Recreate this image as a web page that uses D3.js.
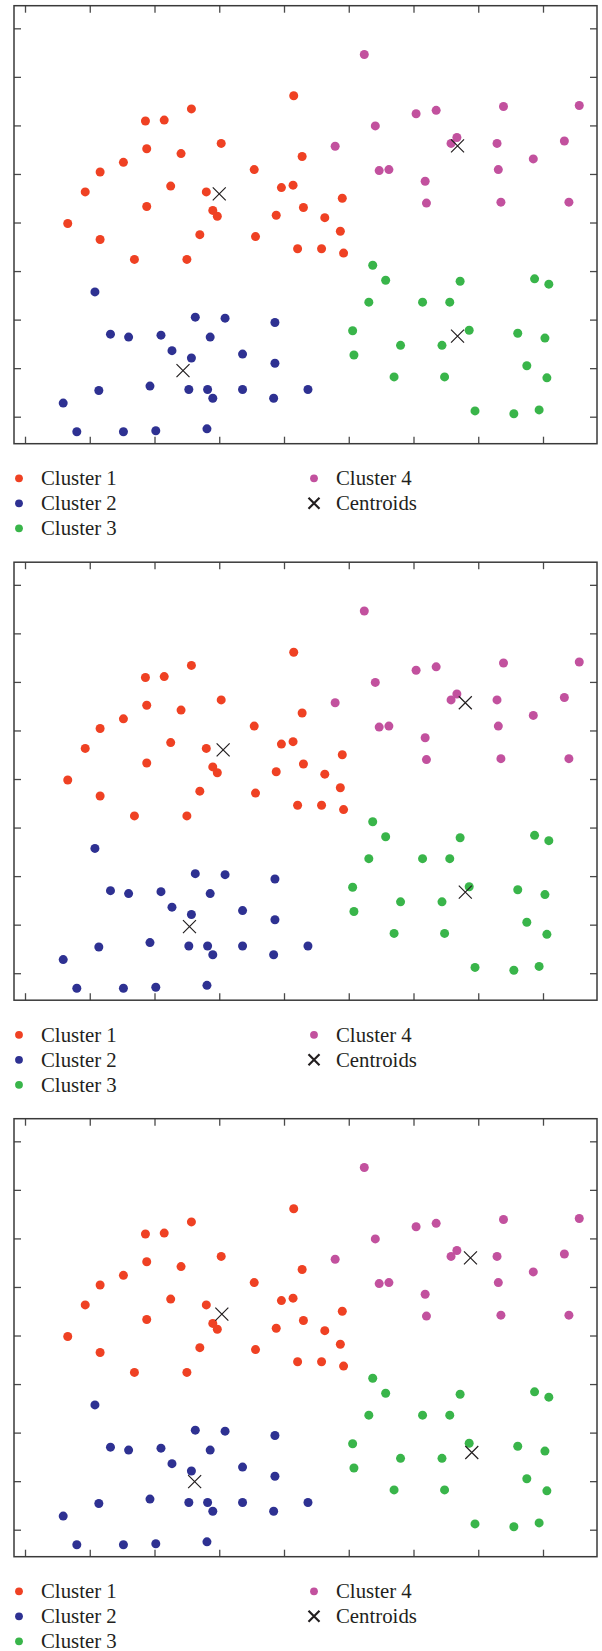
<!DOCTYPE html>
<html>
<head>
<meta charset="utf-8">
<script src="https://cdn.jsdelivr.net/npm/d3@7"></script>
<style>
  html, body { margin: 0; padding: 0; background: #ffffff; }
  svg { display: block; }
</style>
</head>
<body>
<div id="chart"></div>
<script>
// ---------------- data ----------------
const seriesNames = ["Cluster 1", "Cluster 2", "Cluster 3", "Cluster 4"];
const centroidLabel = "Centroids";
const xTicks = [0, 1, 2, 3, 4, 5, 6, 7, 8];
const yTicks = [0, 1, 2, 3, 4, 5, 6, 7, 8];

const cluster1 = [
  [4.15, 6.61], [2.57, 6.34], [1.86, 6.09], [2.15, 6.11], [1.88, 5.52], [3.03, 5.63],
  [2.41, 5.42], [1.52, 5.24], [1.16, 5.04], [3.54, 5.09], [4.28, 5.36], [0.93, 4.63],
  [2.25, 4.75], [2.80, 4.63], [3.96, 4.72], [4.14, 4.77], [1.88, 4.33], [2.90, 4.25],
  [2.97, 4.13], [3.88, 4.15], [4.30, 4.31], [0.66, 3.98], [4.90, 4.50], [4.63, 4.10],
  [1.16, 3.65], [2.70, 3.75], [3.56, 3.71], [4.21, 3.46], [4.58, 3.46], [4.87, 3.82],
  [4.92, 3.37], [1.69, 3.24], [2.50, 3.24]
];
const cluster2 = [
  [1.08, 2.57], [2.63, 2.05], [3.09, 2.03], [3.86, 1.94], [1.32, 1.70], [1.60, 1.64],
  [2.10, 1.68], [2.86, 1.64], [2.27, 1.36], [2.57, 1.21], [3.36, 1.29], [3.86, 1.10],
  [1.93, 0.63], [1.14, 0.54], [2.53, 0.56], [2.82, 0.56], [2.90, 0.38], [3.36, 0.56],
  [3.84, 0.38], [0.59, 0.28], [0.80, -0.31], [1.52, -0.31], [2.02, -0.29], [2.81, -0.25],
  [4.37, 0.56]
];
const cluster3 = [
  [5.37, 3.12], [5.57, 2.81], [6.72, 2.79], [7.87, 2.84], [8.09, 2.73], [5.31, 2.36],
  [6.14, 2.36], [6.56, 2.36], [5.06, 1.77], [6.86, 1.78], [7.61, 1.72], [8.03, 1.62],
  [5.80, 1.47], [6.44, 1.47], [5.08, 1.27], [7.75, 1.05], [5.70, 0.82], [6.48, 0.82],
  [8.06, 0.80], [6.95, 0.12], [7.55, 0.06], [7.94, 0.14]
];
const cluster4 = [
  [5.24, 7.46], [6.04, 6.24], [6.35, 6.31], [7.39, 6.39], [8.56, 6.41], [5.41, 5.99],
  [4.79, 5.57], [6.58, 5.63], [6.67, 5.75], [7.29, 5.63], [8.33, 5.68], [7.85, 5.31],
  [5.47, 5.07], [5.62, 5.09], [7.31, 5.09], [6.18, 4.85], [6.20, 4.40], [7.35, 4.42],
  [8.40, 4.42]
];
// centroids per panel (cluster 1..4)
const centroidsA = [[3.00, 4.59], [2.44, 0.95], [6.68, 1.66], [6.68, 5.58]];
const centroidsB = [[3.06, 4.60], [2.54, 0.96], [6.80, 1.67], [6.80, 5.57]];
const centroidsC = [[3.04, 4.44], [2.62, 0.99], [6.90, 1.59], [6.88, 5.60]];

// ---------------- style / layout ----------------
const colors = ["#EF4123", "#2E3192", "#39B54A", "#C2519E"];
const clusters = [cluster1, cluster2, cluster3, cluster4];
const panels = [centroidsA, centroidsB, centroidsC];

const W = 602, H = 1651;
const panelStep = 556.5;
const frame = { left: 14, right: 597, top: 5.7, bottom: 443.7 };
const xDomain = [-0.17, 8.834];
const yDomain = [-0.556, 8.466];
const ink = "#231F20";
const axisColor = "#3a3a3a";

const svg = d3.select("#chart").append("svg")
  .attr("width", W).attr("height", H)
  .attr("viewBox", `0 0 ${W} ${H}`);

const x = d3.scaleLinear().domain(xDomain).range([frame.left, frame.right]);
const y = d3.scaleLinear().domain(yDomain).range([frame.bottom, frame.top]);

function xMark(g, cx, cy, s, sw) {
  g.append("path")
    .attr("d", `M${cx - s},${cy - s}L${cx + s},${cy + s}M${cx - s},${cy + s}L${cx + s},${cy - s}`)
    .attr("stroke", ink).attr("stroke-width", sw).attr("fill", "none");
}

panels.forEach((cents, pi) => {
  const g = svg.append("g").attr("transform", `translate(0,${pi * panelStep})`);

  // axes with inward ticks, no labels
  const tickLen = -7;
  const styleAxis = sel => {
    sel.select(".domain").remove();
    sel.selectAll(".tick line").attr("stroke", "#4a4a4a").attr("stroke-width", 1.3);
  };
  g.append("g").attr("transform", `translate(0,${frame.bottom})`)
    .call(d3.axisBottom(x).tickValues(xTicks).tickSize(tickLen).tickFormat(""))
    .call(styleAxis);
  g.append("g").attr("transform", `translate(0,${frame.top})`)
    .call(d3.axisTop(x).tickValues(xTicks).tickSize(tickLen).tickFormat(""))
    .call(styleAxis);
  g.append("g").attr("transform", `translate(${frame.left},0)`)
    .call(d3.axisLeft(y).tickValues(yTicks).tickSize(tickLen).tickFormat(""))
    .call(styleAxis);
  g.append("g").attr("transform", `translate(${frame.right},0)`)
    .call(d3.axisRight(y).tickValues(yTicks).tickSize(tickLen).tickFormat(""))
    .call(styleAxis);

  g.append("rect")
    .attr("x", frame.left).attr("y", frame.top)
    .attr("width", frame.right - frame.left).attr("height", frame.bottom - frame.top)
    .attr("fill", "none").attr("stroke", axisColor).attr("stroke-width", 1.5);

  // points
  clusters.forEach((pts, ci) => {
    g.append("g").selectAll("circle").data(pts).join("circle")
      .attr("cx", d => x(d[0])).attr("cy", d => y(d[1]))
      .attr("r", 4.5).attr("fill", colors[ci]);
  });

  // centroids
  const cg = g.append("g");
  cents.forEach(c => xMark(cg, x(c[0]), y(c[1]), 6.5, 1.2));

  // legend
  const lg = g.append("g").attr("font-family", "'Liberation Serif', 'DejaVu Serif', serif")
    .attr("font-size", 20.8).attr("fill", ink);
  const rowY = [478.3, 503.3, 528.3];
  const items = [
    { label: seriesNames[0], color: colors[0], col: 0, row: 0 },
    { label: seriesNames[1], color: colors[1], col: 0, row: 1 },
    { label: seriesNames[2], color: colors[2], col: 0, row: 2 },
    { label: seriesNames[3], color: colors[3], col: 1, row: 0 },
    { label: centroidLabel, color: null, col: 1, row: 1 }
  ];
  const colX = [[19, 41], [314, 336]];
  items.forEach(it => {
    const cy = rowY[it.row];
    const [mx, tx] = colX[it.col];
    if (it.color) {
      lg.append("circle").attr("cx", mx).attr("cy", cy).attr("r", 3.9).attr("fill", it.color);
    } else {
      xMark(lg, mx, cy, 5.5, 2.2);
    }
    lg.append("text").attr("x", tx).attr("y", cy + 6.7).text(it.label);
  });
});
</script>
</body>
</html>
